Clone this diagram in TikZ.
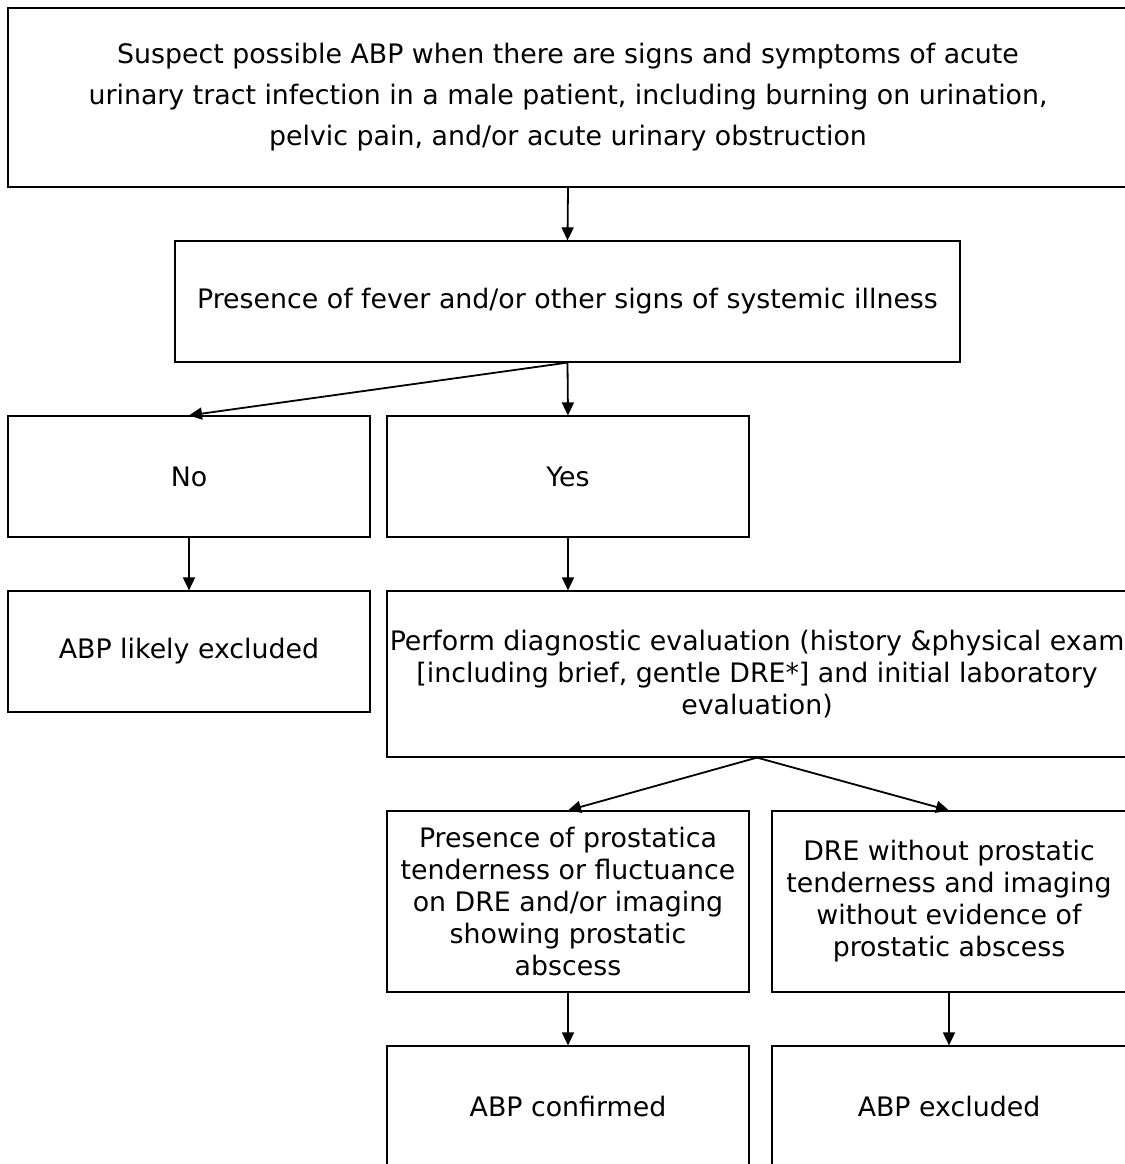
\documentclass[tikz,border=0pt]{standalone}
\usepackage{fontspec}
\setmainfont{DejaVu Sans}
\usetikzlibrary{positioning,arrows.meta}

\begin{document}
\begin{tikzpicture}[x=0.5pt,y=-0.5pt,
    box/.style={draw, line width=0.6pt, inner sep=0pt, align=center,
      font=\fontsize{13.4}{16}\selectfont},
    flow/.style={-{Triangle[length=6.5pt,width=6pt]}, line width=0.9pt}]
    % page, boxes on the right and bottom run past it
    \path[use as bounding box, clip] (0,0) rectangle (1125,1164);

    % Entry
    \node[box, minimum width=560pt, minimum height=89.5pt,
      font=\fontsize{13.4}{20.5}\selectfont] (suspect) at (568,97.5)
      {Suspect possible ABP when there are signs and symptoms of acute\\
       urinary tract infection in a male patient, including burning on urination,\\
       pelvic pain, and/or acute urinary obstruction};
    \node[box, minimum width=392.5pt, minimum height=60.5pt] (fever) at (567.5,301.5)
      {Presence of fever and/or other signs of systemic illness};

    % Answers
    \node[box, minimum width=181pt, minimum height=60.5pt] (no) at (189,476.5) {No};
    \node[box, minimum width=181pt, minimum height=60.5pt] (yes) at (568,476.5) {Yes};
    \node[box, minimum width=181pt, minimum height=60.5pt] (likely) at (189,651.5)
      {ABP likely excluded};
    \node[box, minimum width=370pt, minimum height=83pt] (perform) at (757,674)
      {Perform diagnostic evaluation (history \&physical exam\\
       {[}including brief, gentle DRE*{]} and initial laboratory\\
       evaluation)};

    % Findings
    \node[box, minimum width=181pt, minimum height=90.5pt] (tender) at (568,901.5)
      {Presence of prostatica\\tenderness or fluctuance\\on DRE and/or imaging\\
       showing prostatic\\abscess};
    \node[box, minimum width=177pt, minimum height=90.5pt] (notender) at (949,901.5)
      {DRE without prostatic\\tenderness and imaging\\without evidence of\\
       prostatic abscess};
    \node[box, minimum width=181pt, minimum height=60.5pt] (confirmed) at (568,1106.5)
      {ABP confirmed};
    \node[box, minimum width=177pt, minimum height=60.5pt] (excluded) at (949,1106.5)
      {ABP excluded};

    % Arrows
    \draw[flow] (suspect.south) -- (fever.north);
    \draw[flow] (fever.south) -- (no.north);
    \draw[flow] (fever.south) -- (yes.north);
    \draw[flow] (no) -- (likely);
    \draw[flow] (yes) -- (perform.north -| yes);
    \draw[flow] (perform.south) -- (tender.north);
    \draw[flow] (perform.south) -- (notender.north);
    \draw[flow] (tender) -- (confirmed);
    \draw[flow] (notender) -- (excluded);
\end{tikzpicture}
\end{document}
